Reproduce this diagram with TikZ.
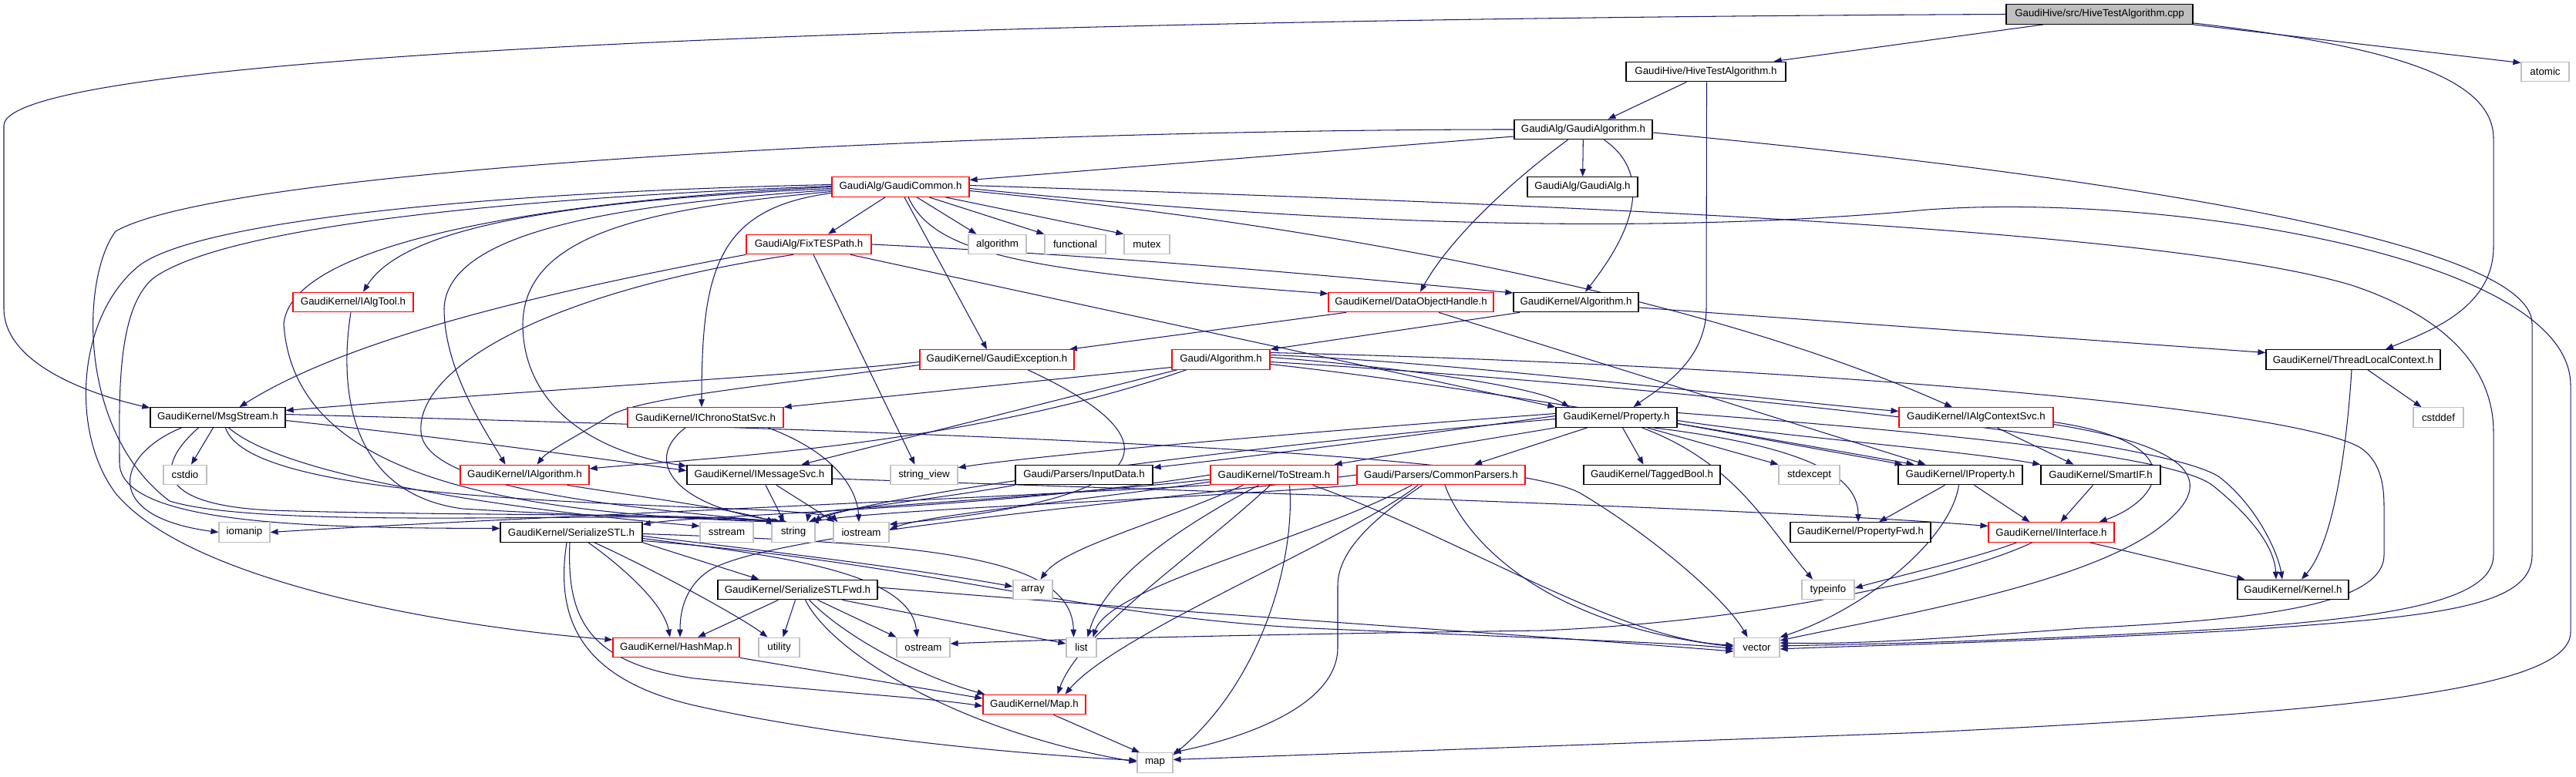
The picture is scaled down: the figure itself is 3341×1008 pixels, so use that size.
\documentclass[tikz,border=0pt]{standalone}
\usepackage{fontspec}
\setmainfont{Liberation Sans}
\usetikzlibrary{arrows.meta}
\definecolor{edgec}{HTML}{191970}
\definecolor{grayb}{HTML}{BFBFBF}
\definecolor{cppfill}{HTML}{BFBFBF}
\pgfdeclarelayer{bg}
\pgfdeclarelayer{edges}
\pgfsetlayers{bg,edges,main}
\tikzset{
  n/.style={rectangle, inner sep=0pt, minimum height=25.5pt, font=\fontsize{13.3pt}{15pt}\selectfont, anchor=center, text=black, fill=white},
  nb/.style={n, draw=black, line width=1.3pt},
  nr/.style={n, draw=red, line width=1.2pt},
  ng/.style={n, draw=grayb, line width=1.2pt},
  e/.style={draw=edgec, line width=1.05pt, -{Triangle[length=10pt,width=7.5pt]}}
}
\begin{document}
\begin{tikzpicture}[x=1pt,y=-1pt]
\useasboundingbox (0,0) rectangle (3341,1008);
\begin{pgfonlayer}{bg}
\fill[white] (0,0) rectangle (3341,1008);
\end{pgfonlayer}
% ---------------- nodes
\node[nb, fill=cppfill, minimum width=242pt] (cpp) at (2723,18.5) {GaudiHive/src/HiveTestAlgorithm.cpp};
\node[nb, minimum width=207pt] (hta) at (2212.5,93) {GaudiHive/HiveTestAlgorithm.h};
\node[ng, minimum width=62pt] (atomic) at (3301,93) {atomic};
\node[nb, minimum width=179pt] (galgo) at (2053.5,168) {GaudiAlg/GaudiAlgorithm.h};
\node[nb, minimum width=143pt] (galg) at (2052.5,242.5) {GaudiAlg/GaudiAlg.h};
\node[nr, minimum width=178pt] (gcom) at (1168,242.5) {GaudiAlg/GaudiCommon.h};
\node[nr, minimum width=162pt] (fix) at (1049,317) {GaudiAlg/FixTESPath.h};
\node[ng, minimum width=75pt] (algorithm) at (1293.5,317) {algorithm};
\node[ng, minimum width=79pt] (functional) at (1394.5,317) {functional};
\node[ng, minimum width=59pt] (mutex) at (1487.5,317) {mutex};
\node[nr, minimum width=156pt] (ialgtool) at (458,392) {GaudiKernel/IAlgTool.h};
\node[nr, minimum width=214pt] (doh) at (1830,392) {GaudiKernel/DataObjectHandle.h};
\node[nb, minimum width=162pt] (gkalg) at (2044,392) {GaudiKernel/Algorithm.h};
\node[nr, minimum width=200pt] (gexc) at (1293,466.5) {GaudiKernel/GaudiException.h};
\node[nr, minimum width=127pt] (galgorithm) at (1583.5,466.5) {Gaudi/Algorithm.h};
\node[nb, minimum width=226pt] (tlc) at (3052,466.5) {GaudiKernel/ThreadLocalContext.h};
\node[nb, minimum width=175pt] (msg) at (282.5,541.5) {GaudiKernel/MsgStream.h};
\node[nr, minimum width=202pt] (ichrono) at (915,541.5) {GaudiKernel/IChronoStatSvc.h};
\node[nb, minimum width=157pt] (prop) at (2096.5,541.5) {GaudiKernel/Property.h};
\node[nr, minimum width=200pt] (iactx) at (2563,541.5) {GaudiKernel/IAlgContextSvc.h};
\node[ng, minimum width=65pt] (cstddef) at (3162.5,541.5) {cstddef};
\node[ng, minimum width=56pt] (cstdio) at (240,616) {cstdio};
\node[nr, minimum width=167pt] (ialg) at (680.5,616) {GaudiKernel/IAlgorithm.h};
\node[nb, minimum width=188pt] (imsg) at (985,616) {GaudiKernel/IMessageSvc.h};
\node[ng, minimum width=87pt] (strview) at (1198.5,616) {string\_view};
\node[nb, minimum width=178pt] (input) at (1406,616) {Gaudi/Parsers/InputData.h};
\node[nr, minimum width=165pt] (tostream) at (1652.5,616) {GaudiKernel/ToStream.h};
\node[nr, minimum width=218pt] (common) at (1869,616) {Gaudi/Parsers/CommonParsers.h};
\node[nb, minimum width=177pt] (tagged) at (2142.5,616) {GaudiKernel/TaggedBool.h};
\node[ng, minimum width=79pt] (stdexcept) at (2346.5,616) {stdexcept};
\node[nb, minimum width=161pt] (iprop) at (2542.5,616) {GaudiKernel/IProperty.h};
\node[nb, minimum width=155pt] (smartif) at (2724.5,616) {GaudiKernel/SmartIF.h};
\node[ng, minimum width=66pt] (iomanip) at (317,690.5) {iomanip};
\node[nb, minimum width=184pt] (sstl) at (741,690.5) {GaudiKernel/SerializeSTL.h};
\node[ng, minimum width=69pt] (sstream) at (942.5,690.5) {sstream};
\node[ng, minimum width=56pt] (string) at (1029,690.5) {string};
\node[ng, minimum width=72pt] (iostream) at (1117,690.5) {iostream};
\node[nb, minimum width=182pt] (propfwd) at (2413,690.5) {GaudiKernel/PropertyFwd.h};
\node[nr, minimum width=163pt] (iiface) at (2660.5,690.5) {GaudiKernel/IInterface.h};
\node[nb, minimum width=207pt] (sstlfwd) at (1034.5,765) {GaudiKernel/SerializeSTLFwd.h};
\node[ng, minimum width=51pt] (array) at (1339.5,765) {array};
\node[ng, minimum width=68pt] (typeinfo) at (2371,765) {typeinfo};
\node[nb, minimum width=144pt] (kernel) at (2974,765) {GaudiKernel/Kernel.h};
\node[nr, minimum width=164pt] (hashmap) at (877,840) {GaudiKernel/HashMap.h};
\node[ng, minimum width=53pt] (utility) at (1010.5,840) {utility};
\node[ng, minimum width=69pt] (ostream) at (1197.5,840) {ostream};
\node[ng, minimum width=39pt] (list) at (1402.5,840) {list};
\node[ng, minimum width=59pt] (vector) at (2278.5,840) {vector};
\node[nr, minimum width=133pt] (maph) at (1341.5,914) {GaudiKernel/Map.h};
\node[ng, minimum width=46pt] (map) at (1498,989.5) {map};
% ---------------- edges
\begin{pgfonlayer}{edges}
% cpp
\draw[e] ([xshift=-73pt]cpp.south) -- ([xshift=-16pt]hta.north east);
\draw[e] (cpp.south east) -- (atomic.160);
\draw[e] (cpp.west) .. controls (1200,25) and (5,70) .. (5,163) -- (5,400) .. controls (5,470) and (110,510) .. (msg.172);
\draw[e] ([yshift=2pt]cpp.south east) .. controls (3100,60) and (3234,100) .. (3234,180) -- (3234,320) .. controls (3234,400) and (3150,430) .. ([xshift=42pt]tlc.north);
% hta
\draw[e] ([xshift=-25pt]hta.south) -- ([xshift=32pt]galgo.north);
\draw[e] ([xshift=1pt]hta.south) -- (2213,400) .. controls (2213,470) and (2150,505) .. ([xshift=22pt]prop.north);
% galgo
\draw[e] ([yshift=-9pt]galgo.west) -- ([yshift=9pt]gcom.east);
\draw[e] (galgo) -- (galg);
\draw[e] ([xshift=-20pt]galgo.south) .. controls (1960,235) and (1880,310) .. ([xshift=12pt]doh.north);
\draw[e] ([xshift=27pt]galgo.south) .. controls (2150,230) and (2110,310) .. ([xshift=12pt]gkalg.north);
\draw[e] ([yshift=-4pt]galgo.east) .. controls (2600,215) and (3284,300) .. (3284,420) -- (3284,720) .. controls (3284,790) and (3150,800) .. (2900,818) .. controls (2600,834) and (2400,838) .. ([yshift=-2pt]vector.east);
\draw[e] (galgo.west) .. controls (1300,168) and (300,215) .. (150,300) .. controls (105,360) and (100,560) .. (220,650) .. controls (350,690) and (850,660) .. ([xshift=-15pt]string.north);
% gcom
\draw[e] ([xshift=-20pt]gcom.south) -- ([xshift=25pt]fix.north);
\draw[e] ([xshift=21pt]gcom.south) -- ([xshift=-27pt]algorithm.north);
\draw[e] ([xshift=37pt]gcom.south) -- (functional.north west);
\draw[e] ([xshift=58pt]gcom.south) -- (mutex.north west);
\draw[e] ([xshift=5pt]gcom.south) -- ([xshift=-13pt]gexc.north);
\draw[e] ([yshift=-8pt]gcom.west) .. controls (930,270) and (910,350) .. ([xshift=-5pt]ichrono.north);
\draw[e] ([xshift=10pt]gcom.south) .. controls (1212,330) and (1330,352) .. ([yshift=11pt]doh.west);
\draw[e] ([yshift=-5pt]gcom.east) .. controls (1700,290) and (2200,380) .. ([xshift=-31pt]iactx.north);
\draw[e] ([yshift=2pt]gcom.east) .. controls (2000,265) and (2800,295) .. (3050,370) .. controls (3200,420) and (3234,500) .. (3234,560) -- (3234,720) .. controls (3234,780) and (3100,800) .. (2900,815) .. controls (2600,833) and (2400,836) .. ([yshift=2pt]vector.east);
\draw[e] ([yshift=-2pt]gcom.east) .. controls (1800,300) and (2200,300) .. (2500,272) .. controls (2800,250) and (3334,330) .. (3334,500) -- (3334,820) .. controls (3334,900) and (3000,925) .. (2500,950) -- ([yshift=4pt]map.east);
\draw[e] ([yshift=3pt]gcom.west) .. controls (600,250) and (250,290) .. (180,345) .. controls (100,410) and (90,560) .. (150,640) .. controls (250,760) and (600,815) .. ([yshift=10pt]hashmap.west);
\draw[e] ([yshift=1pt]gcom.west) .. controls (700,255) and (300,290) .. (200,360) .. controls (150,400) and (155,520) .. (155,600) .. controls (155,680) and (400,685) .. ([yshift=5pt]sstl.west);
\draw[e] (gcom.west) .. controls (800,255) and (380,300) .. (368,420) .. controls (380,600) and (600,665) .. ([xshift=-20pt]string.north);
\draw[e] ([yshift=-2pt]gcom.west) .. controls (700,262) and (520,300) .. ([xshift=13pt]ialgtool.north);
\draw[e] ([yshift=-4pt]gcom.west) .. controls (800,265) and (580,300) .. (576,400) .. controls (576,480) and (630,560) .. ([xshift=-25pt]ialg.north);
\draw[e] ([yshift=-6pt]gcom.west) .. controls (850,270) and (680,300) .. (678,420) .. controls (678,520) and (760,585) .. ([yshift=-2pt]imsg.north west);
% fix
\draw[e] (fix.south west) .. controls (700,380) and (450,440) .. ([xshift=28pt]msg.north);
\draw[e] ([xshift=-20pt]fix.south) .. controls (700,380) and (540,480) .. (546,560) .. controls (550,640) and (850,660) .. ([xshift=-25pt]string.north);
\draw[e] ([xshift=6pt]fix.south) -- ([xshift=-12pt]strview.north);
\draw[e] ([xshift=54pt]fix.south) -- (prop.north west);
\draw[e] (fix.east) .. controls (1500,335) and (1800,365) .. ([yshift=12pt]gkalg.west);
% ialgtool
\draw[e] ([xshift=-3pt]ialgtool.south) .. controls (440,500) and (450,640) .. (600,660) .. controls (800,672) and (950,672) .. ([xshift=-22pt]string.north);
% msg
\draw[e] ([xshift=-6pt]msg.south) -- ([xshift=8pt]cstdio.north);
\draw[e] ([xshift=-47pt]msg.south) .. controls (150,590) and (130,670) .. (iomanip.west);
\draw[e] ([xshift=-25pt]msg.south) .. controls (195,610) and (210,655) .. (350,662) .. controls (600,670) and (900,665) .. ([xshift=-18pt]string.north);
\draw[e] ([xshift=10pt]msg.south) .. controls (320,640) and (700,650) .. (1000,662) .. controls (1050,665) and (1080,670) .. ([xshift=6pt]iostream.north west);
\draw[e] ([xshift=14pt]msg.south) .. controls (375,623) and (700,665) .. ([yshift=8pt]sstream.west);
\draw[e] ([yshift=-4pt]msg.east) .. controls (600,570) and (800,598) .. ([yshift=-8pt]imsg.north west);
\draw[e] ([yshift=4pt]msg.east) .. controls (1200,560) and (1950,585) .. (2050,640) .. controls (2150,700) and (2240,780) .. ([xshift=-12pt]vector.north);
% gexc
\draw[e] ([yshift=-3pt]gexc.west) .. controls (1000,490) and (700,505) .. ([yshift=9pt]msg.east);
\draw[e] ([yshift=-7pt]gexc.west) .. controls (1000,500) and (830,515) .. (790,540) .. controls (750,565) and (710,585) .. ([xshift=16pt]ialg.north);
\draw[e] ([xshift=40pt]gexc.south) .. controls (1550,580) and (1480,650) .. ([yshift=-3pt]iostream.north east);
% galgorithm
\draw[e] ([yshift=-10pt]galgorithm.west) -- (ichrono.north east);
\draw[e] ([xshift=-57pt]galgorithm.south) -- ([xshift=-40pt]imsg.north east);
\draw[e] ([xshift=-45pt]galgorithm.south) .. controls (1250,580) and (900,595) .. ([yshift=8pt]ialg.east);
\draw[e] ([yshift=3pt]galgorithm.east) .. controls (1800,475) and (1990,500) .. ([xshift=18pt]prop.north west);
\draw[e] ([yshift=6pt]galgorithm.east) .. controls (1900,470) and (2300,520) .. ([yshift=8pt]iactx.west);
\draw[e] ([yshift=-6pt]galgorithm.east) .. controls (1900,500) and (2300,570) .. ([xshift=-60pt]iprop.north);
\draw[e] ([yshift=9pt]galgorithm.east) .. controls (2200,470) and (2950,520) .. (3060,580) .. controls (3092,600) and (3092,640) .. (3092,660) -- (3092,720) .. controls (3092,790) and (2900,805) .. (2700,815) .. controls (2500,830) and (2400,836) .. ([yshift=6pt]vector.east);
\draw[e] ([yshift=-3pt]galgorithm.east) .. controls (2000,490) and (2800,560) .. (2880,620) .. controls (2930,660) and (2955,720) .. ([xshift=-14pt]kernel.north);
% prop
\draw[e] ([yshift=5pt]prop.west) .. controls (1700,560) and (1350,590) .. ([yshift=-4pt]strview.north east);
\draw[e] ([yshift=2pt]prop.west) .. controls (1800,570) and (1600,595) .. ([yshift=-4pt]input.north east);
\draw[e] ([yshift=-2pt]prop.west) .. controls (1600,580) and (1150,640) .. ([xshift=20pt]string.north);
\draw[e] (prop.south west) -- ([xshift=-5pt]tostream.north east);
\draw[e] ([xshift=-38pt]prop.south) -- ([xshift=43pt]common.north);
\draw[e] ([xshift=8pt]prop.south) -- ([xshift=-11pt]tagged.north);
\draw[e] ([xshift=40pt]prop.south) -- (stdexcept.north west);
\draw[e] ([xshift=48pt]prop.south) .. controls (2350,580) and (2410,620) .. ([xshift=-3pt]propfwd.north);
\draw[e] ([xshift=33pt]prop.south) .. controls (2250,600) and (2290,680) .. ([xshift=-20pt]typeinfo.north);
\draw[e] ([yshift=-8pt]prop.east) -- ([xshift=-75pt]iprop.north);
\draw[e] ([yshift=-4pt]prop.east) .. controls (2300,565) and (2550,585) .. (smartif.north west);
\draw[e] ([yshift=6pt]prop.east) .. controls (2500,560) and (2820,590) .. (2870,630) .. controls (2920,670) and (2950,710) .. ([xshift=-22pt]kernel.north);
% iactx
\draw[e] ([xshift=27pt]iactx.south) -- ([xshift=-35pt]smartif.north);
\draw[e] ([yshift=-6pt]iactx.east) .. controls (2850,575) and (2800,650) .. ([xshift=-20pt]iiface.north east);
\draw[e] ([yshift=-9pt]iactx.east) .. controls (2880,585) and (2860,640) .. (2800,685) .. controls (2700,760) and (2450,800) .. ([yshift=9pt]vector.east);
% iprop
\draw[e] ([xshift=18pt]iprop.south) -- ([xshift=-28pt]iiface.north);
\draw[e] ([xshift=-20pt]iprop.south) -- ([xshift=24pt]propfwd.north);
\draw[e] ([xshift=-2pt]iprop.south) .. controls (2530,700) and (2420,790) .. (vector.north east);
% smartif
\draw[e] ([xshift=-10pt]smartif.south) -- ([xshift=12pt]iiface.north);
% iiface
\draw[e] ([xshift=50pt]iiface.south) -- ([xshift=10pt]kernel.north west);
\draw[e] ([xshift=-45pt]iiface.south) .. controls (2560,725) and (2450,750) .. ([yshift=2pt]typeinfo.east);
\draw[e] ([xshift=-25pt]iiface.south) .. controls (2550,745) and (2300,805) .. (2000,818) .. controls (1700,822) and (1400,828) .. ([yshift=5pt]ostream.east);
% tlc
\draw[e] ([xshift=19pt]tlc.south) -- ([xshift=-22pt]cstddef.north);
\draw[e] ([xshift=-2pt]tlc.south) .. controls (3045,560) and (3030,700) .. ([xshift=11pt]kernel.north);
% doh
\draw[e] ([xshift=-84pt]doh.south) -- ([xshift=94pt]gexc.north);
\draw[e] ([xshift=36pt]doh.south) -- ([xshift=-45pt]iprop.north);
% gkalg
\draw[e] ([xshift=-73pt]gkalg.south) -- (galgorithm.north east);
\draw[e] ([yshift=-7pt]gkalg.east) -- ([yshift=9pt]tlc.west);
% ichrono
\draw[e] ([xshift=81pt]ichrono.south) .. controls (1090,590) and (1112,640) .. ([xshift=-3pt]iostream.north);
\draw[e] ([xshift=-26pt]ichrono.south) .. controls (830,600) and (880,660) .. ([xshift=-8pt]string.north);
% imsg
\draw[e] ([xshift=8pt]imsg.south) -- ([xshift=-12pt]string.north);
\draw[e] ([xshift=22pt]imsg.south) -- ([xshift=2pt]iostream.north west);
\draw[e] ([yshift=-5pt]imsg.east) .. controls (1500,635) and (2300,660) .. ([yshift=8pt]iiface.west);
% ialg
\draw[e] ([xshift=55pt]ialg.south) .. controls (800,640) and (950,660) .. ([xshift=-24pt]string.north);
% input
\draw[e] (input.south west) .. controls (1200,650) and (1080,660) .. ([xshift=-2pt]string.north east);
% tostream
\draw[e] (tostream.south west) .. controls (1200,650) and (600,675) .. (iomanip.east);
\draw[e] ([yshift=-6pt]tostream.west) .. controls (1300,650) and (1050,660) .. ([xshift=18pt]string.north);
\draw[e] ([yshift=-9pt]tostream.west) .. controls (1400,650) and (1200,668) .. ([yshift=-10pt]iostream.north east);
\draw[e] (tostream.west) .. controls (1300,660) and (900,668) .. ([yshift=10pt]sstl.east);
\draw[e] ([xshift=-40pt]tostream.south) .. controls (1500,680) and (1380,710) .. ([xshift=10pt]array.north);
\draw[e] ([xshift=-20pt]tostream.south) .. controls (1500,700) and (1430,760) .. ([xshift=8pt]list.north);
\draw[e] ([xshift=20pt]tostream.south) .. controls (1680,720) and (1640,880) .. ([yshift=10pt]map.east);
\draw[e] ([xshift=-5pt]tostream.south) .. controls (1550,720) and (1400,820) .. ([xshift=30pt]maph.north);
\draw[e] ([xshift=50pt]tostream.south) .. controls (1900,700) and (2100,830) .. ([yshift=3pt]vector.west);
% common
\draw[e] (common.south west) .. controls (1500,650) and (1150,660) .. ([xshift=-6pt]string.north east);
\draw[e] ([xshift=-38pt]common.south) .. controls (1700,700) and (1440,760) .. ([xshift=15pt]list.north);
\draw[e] ([xshift=-24pt]common.south) .. controls (1770,680) and (1735,720) .. (1735,760) -- (1735,840) .. controls (1735,920) and (1600,960) .. (map.north east);
\draw[e] ([xshift=-30pt]common.south) .. controls (1750,700) and (1450,820) .. ([xshift=40pt]maph.north);
\draw[e] ([xshift=5pt]common.south) .. controls (1900,700) and (2000,810) .. ([yshift=1pt]vector.west);
\draw[e] (common.west) .. controls (1500,650) and (1000,690) .. (920,740) .. controls (890,760) and (882,790) .. ([xshift=5pt]hashmap.north);
% sstl
\draw[e] (sstl.south east) -- ([xshift=-50pt]sstlfwd.north);
\draw[e] ([xshift=22pt]sstl.south) .. controls (800,730) and (860,780) .. ([xshift=-8pt]hashmap.north);
\draw[e] ([xshift=-2pt]sstl.south) .. controls (735,800) and (760,860) .. (900,880) .. controls (1100,900) and (1200,905) .. ([yshift=-2pt]maph.west);
\draw[e] ([xshift=-6pt]sstl.south) .. controls (720,800) and (750,880) .. (900,915) .. controls (1100,960) and (1350,980) .. ([yshift=3pt]map.west);
\draw[e] ([xshift=30pt]sstl.south) .. controls (850,740) and (960,800) .. ([xshift=-15pt]utility.north);
\draw[e] ([yshift=-8pt]sstl.east) .. controls (1000,720) and (1180,740) .. ([xshift=-8pt]ostream.north);
\draw[e] ([yshift=-2pt]sstl.east) .. controls (1200,705) and (1390,720) .. ([xshift=-10pt]list.north);
\draw[e] ([yshift=-5pt]sstl.east) .. controls (1000,715) and (1200,740) .. ([yshift=4pt]array.west);
\draw[e] ([yshift=-11pt]sstl.east) .. controls (1200,730) and (1400,800) .. (1700,815) .. controls (2000,828) and (2200,835) .. ([yshift=-2pt]vector.west);
% sstlfwd
\draw[e] ([xshift=-25pt]sstlfwd.south) -- ([xshift=28pt]hashmap.north);
\draw[e] ([xshift=-3pt]sstlfwd.south) -- ([xshift=5pt]utility.north);
\draw[e] ([xshift=10pt]sstlfwd.south) .. controls (1080,850) and (1250,950) .. ([yshift=1pt]map.west);
\draw[e] ([xshift=15pt]sstlfwd.south) .. controls (1100,830) and (1200,880) .. ([xshift=3pt]maph.north west);
\draw[e] ([xshift=26pt]sstlfwd.south) -- (ostream.north west);
\draw[e] ([xshift=58pt]sstlfwd.south) -- ([yshift=5pt]list.west);
\draw[e] ([yshift=3pt]sstlfwd.east) .. controls (1600,800) and (2000,825) .. ([yshift=-5pt]vector.west);
% hashmap, maph
\draw[e] (hashmap.south east) -- ([yshift=8pt]maph.west);
\draw[e] ([xshift=25pt]maph.south) -- ([xshift=-20pt]map.north);
\end{pgfonlayer}
\end{tikzpicture}
\end{document}
